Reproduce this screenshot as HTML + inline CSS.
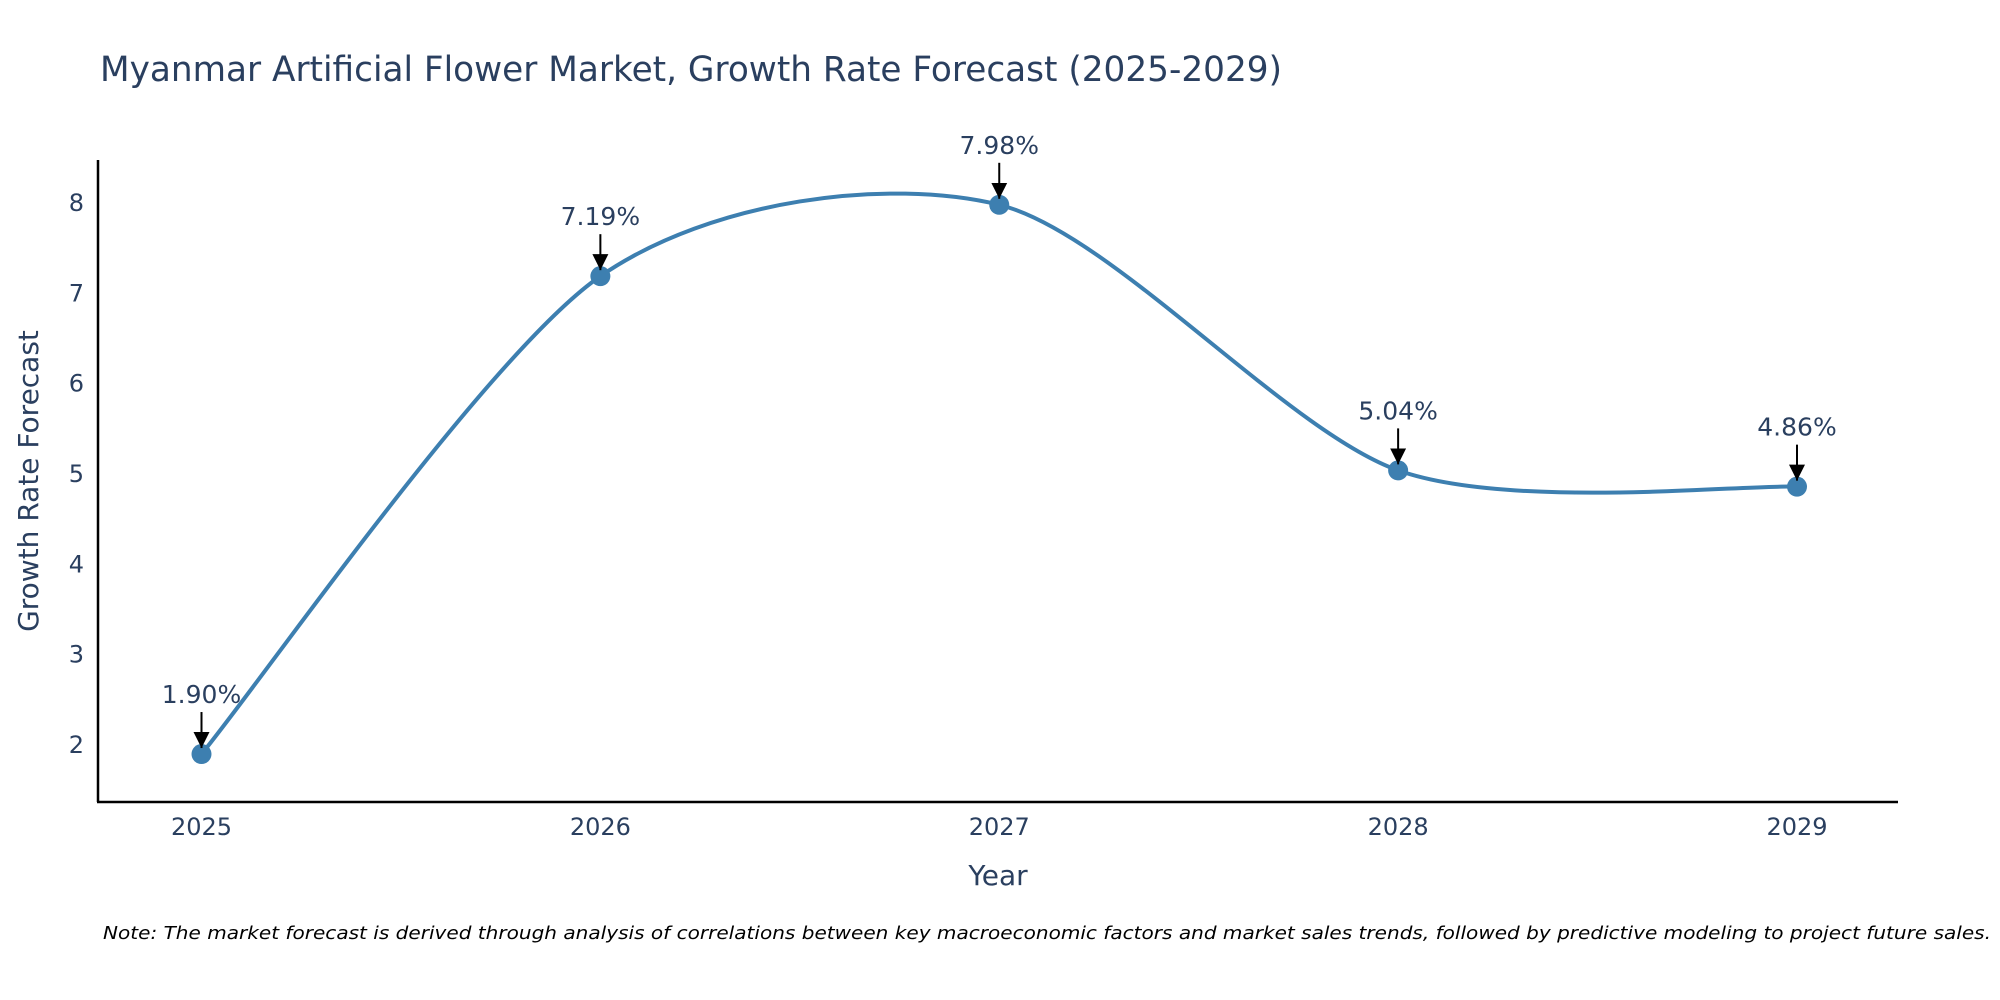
<!DOCTYPE html>
<html><head><meta charset="utf-8">
<style>
body{margin:0;background:#fff;}
svg{display:block;font-family:"DejaVu Sans","Liberation Sans",sans-serif;}
</style></head>
<body>
<svg id="chart" width="2000" height="1000">
<text x="100" y="81" font-size="35" fill="#2a3f5f" textLength="1182" lengthAdjust="spacingAndGlyphs">Myanmar Artificial Flower Market, Growth Rate Forecast (2025-2029)</text>
<line x1="98" y1="160" x2="98" y2="802" stroke="#000" stroke-width="2.5"/>
<line x1="97" y1="802" x2="1898" y2="802" stroke="#000" stroke-width="2.5"/>
<g id="ticks"></g>
<path id="line" fill="none" stroke="#3d7fb0" stroke-width="4"/>
<g id="points"></g>
<text x="998" y="885" font-size="28" fill="#2a3f5f" text-anchor="middle">Year</text>
<text transform="translate(38,481) rotate(-90)" font-size="28" fill="#2a3f5f" text-anchor="middle">Growth Rate Forecast</text>
<text x="103" y="939" font-size="18" font-style="italic" fill="#000" textLength="1888" lengthAdjust="spacingAndGlyphs">Note: The market forecast is derived through analysis of correlations between key macroeconomic factors and market sales trends, followed by predictive modeling to project future sales.</text>
</svg>
<script>
const years=[2025,2026,2027,2028,2029];
const values=[1.90,7.19,7.98,5.04,4.86];
const labels=["1.90%","7.19%","7.98%","5.04%","4.86%"];
const yTicks=[2,3,4,5,6,7,8];
const NS="http://www.w3.org/2000/svg";
const xs=y=>201.5+(y-2025)*(1797-201.5)/4;
const ys=v=>745-(v-2)*(745-203)/6;
const svg=document.getElementById('chart');
const tg=document.getElementById('ticks');
function mk(tag,attrs,parent){const e=document.createElementNS(NS,tag);for(const k in attrs)e.setAttribute(k,attrs[k]);parent.appendChild(e);return e;}
yTicks.forEach(t=>{
  const e=mk('text',{x:84,y:ys(t)+8,'font-size':24,fill:'#2a3f5f','text-anchor':'end'},tg);
  
  
  e.textContent=t;
});
years.forEach(y=>{
  const e=mk('text',{x:xs(y),y:835,'font-size':24,fill:'#2a3f5f','text-anchor':'middle'},tg);
  
  
  e.textContent=y;
});
const P=years.map((y,i)=>[xs(y),ys(values[i])]);
let d='M'+P[0][0]+','+P[0][1];
const s=0.14;
for(let i=0;i<P.length-1;i++){
  const p0=P[Math.max(i-1,0)],p1=P[i],p2=P[i+1],p3=P[Math.min(i+2,P.length-1)];
  const c1=[p1[0]+(p2[0]-p0[0])*s,p1[1]+(p2[1]-p0[1])*s];
  const c2=[p2[0]-(p3[0]-p1[0])*s,p2[1]-(p3[1]-p1[1])*s];
  d+=` C${c1[0]},${c1[1]} ${c2[0]},${c2[1]} ${p2[0]},${p2[1]}`;
}
document.getElementById('line').setAttribute('d',d);
const pg=document.getElementById('points');
mk('defs',{},svg).innerHTML='<marker id="ah" viewBox="0 0 10 10" refX="10" refY="5" markerWidth="16" markerHeight="16" markerUnits="userSpaceOnUse" orient="auto"><path d="M0,0L10,5L0,10z" fill="#000"/></marker>';
P.forEach((p,i)=>{
  const c=mk('circle',{cx:p[0],cy:p[1],r:10,fill:'#3d7fb0'},pg);
  
  
  const a=mk('line',{x1:p[0],y1:p[1]-42,x2:p[0],y2:p[1]-6,stroke:'#000','stroke-width':2,'marker-end':'url(#ah)'},pg);
  
  
  const t=mk('text',{x:p[0],y:p[1]-51,'font-size':25,fill:'#2a3f5f','text-anchor':'middle'},pg);
  
  
  t.textContent=labels[i];
});
</script>
</body></html>
